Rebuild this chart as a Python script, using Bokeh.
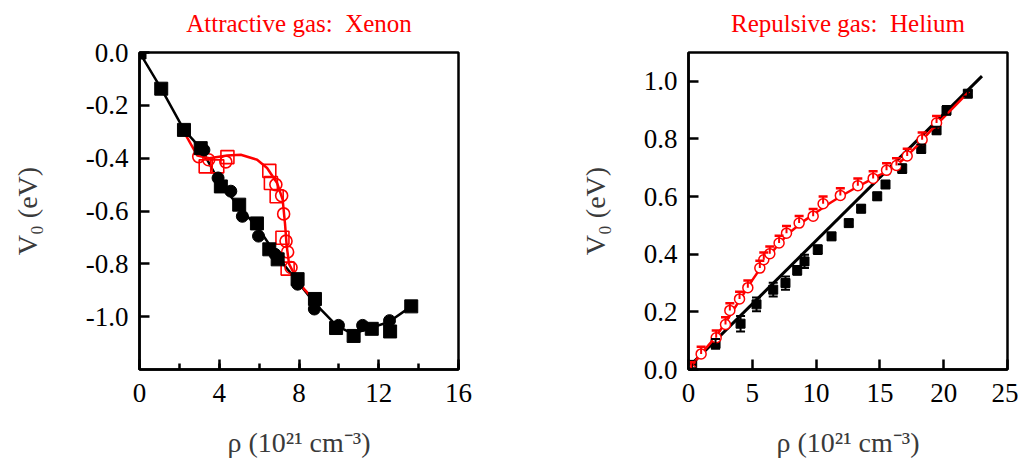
from bokeh.plotting import figure
from bokeh.models import (ColumnDataSource, Whisker, TeeHead, SingleIntervalTicker,
                          NumeralTickFormatter, Range1d, LinearAxis, FixedTicker)
from bokeh.layouts import row
from bokeh.embed import file_html
from bokeh.resources import INLINE

FONT = "Liberation Serif"

# ---------------- Left panel: Xenon ----------------
xe_title = "Attractive gas:\u00a0 Xenon"
xe_sq_x = [0, 1.09, 2.23, 3.07, 4.08, 5.0, 5.89, 6.51, 6.93, 7.93, 8.8, 9.86, 10.74, 11.65, 12.57, 13.63]
xe_sq_y = [0, -0.137, -0.293, -0.362, -0.507, -0.576, -0.647, -0.745, -0.783, -0.858, -0.933, -1.043, -1.073, -1.046, -1.056, -0.961]

xe_ci_x = [3.23, 3.94, 4.58, 5.16, 5.97, 6.8, 7.93, 8.77, 9.98, 11.19, 12.54]
xe_ci_y = [-0.369, -0.475, -0.525, -0.62, -0.695, -0.764, -0.877, -0.971, -1.033, -1.033, -1.015]

xe_oc_x = [2.97, 3.47, 4.33, 6.84, 7.13, 7.23, 7.35, 7.43, 7.6]
xe_oc_y = [-0.394, -0.406, -0.414, -0.50, -0.542, -0.611, -0.714, -0.755, -0.814]

xe_os_x = [3.32, 3.9, 4.41, 6.51, 6.59, 6.88, 7.17, 7.43]
xe_os_y = [-0.431, -0.431, -0.396, -0.448, -0.494, -0.544, -0.701, -0.818]

xe_black_line_x = [0, 1.09, 2.23, 3.1, 4.0, 5.0, 6.0, 6.9, 7.9, 8.8, 9.9, 10.7, 11.3, 12.5, 13.63]
xe_black_line_y = [0, -0.137, -0.293, -0.365, -0.49, -0.585, -0.67, -0.77, -0.865, -0.95, -1.035, -1.065, -1.05, -1.02, -0.961]

xe_red_line_x = [2.3, 2.9, 3.5, 4.4, 5.08, 5.9, 6.4, 6.9, 7.18, 7.3, 7.38, 7.5, 7.7, 8.25, 8.8]
xe_red_line_y = [-0.31, -0.39, -0.40, -0.39, -0.387, -0.406, -0.437, -0.494, -0.557, -0.65, -0.73, -0.8, -0.83, -0.895, -0.94]

# ---------------- Right panel: Helium ----------------
he_title = "Repulsive gas:\u00a0 Helium"
he_b_x = [0.29, 2.12, 4.08, 5.33, 6.64, 7.6, 8.52, 9.09, 10.13, 11.21, 12.56, 13.53, 14.79, 15.44, 16.75, 18.24, 19.44, 20.22, 21.89]
he_b_y = [0.016, 0.089, 0.159, 0.226, 0.277, 0.300, 0.344, 0.375, 0.416, 0.462, 0.508, 0.558, 0.601, 0.642, 0.697, 0.766, 0.830, 0.899, 0.957]
he_b_err = [0.012, 0.017, 0.027, 0.024, 0.024, 0.023, 0.015, 0.023, 0.015, 0.012, 0.012, 0.012, 0.012, 0.012, 0.015, 0.015, 0.012, 0.015, 0.010]

he_r_x = [0.21, 0.99, 2.17, 2.9, 3.24, 4.0, 4.65, 5.59, 5.9, 6.37, 7.1, 7.68, 8.67, 9.77, 10.55, 11.9, 13.27, 14.47, 15.52, 16.3, 17.14, 18.31, 19.44]
he_r_y = [0.0, 0.054, 0.11, 0.156, 0.205, 0.245, 0.284, 0.352, 0.381, 0.402, 0.439, 0.473, 0.508, 0.532, 0.575, 0.604, 0.638, 0.663, 0.691, 0.708, 0.741, 0.797, 0.855]
he_r_err = [0.025] * len(he_r_x)

he_black_line_x = [0, 23]
he_black_line_y = [0.008, 1.018]

he_red_line_x = [0, 1, 2.17, 3.0, 4, 5, 6, 7, 8, 9, 10, 11, 12, 13, 14, 15, 16, 17, 18, 19, 20, 21, 22]
he_red_line_y = [0.0, 0.055, 0.115, 0.17, 0.24, 0.31, 0.375, 0.432, 0.478, 0.514, 0.545, 0.575, 0.603, 0.628, 0.652, 0.675, 0.70, 0.735, 0.78, 0.83, 0.875, 0.92, 0.965]


def style(p, ylabel_standoff, title, xticker, yticker):
    p.grid.visible = False
    p.outline_line_color = "black"
    p.outline_line_width = 2.5
    xax = p.below[0]
    yax = p.left[0]
    for ax in (xax, yax):
        ax.axis_line_width = 2.5
        ax.major_tick_line_width = 2.5
        ax.minor_tick_line_width = 2.5
        ax.major_tick_in = 10
        ax.major_tick_out = 0
        ax.minor_tick_in = 6
        ax.minor_tick_out = 0
        ax.major_label_text_font = FONT
        ax.major_label_text_font_size = "27px"
        ax.major_label_text_color = "black"
        ax.axis_label_text_font = FONT
        ax.axis_label_text_font_size = "28px"
        ax.axis_label_text_font_style = "normal"
        ax.axis_label_text_color = "#3a3a3a"
    xax.ticker = xticker
    yax.ticker = yticker
    xax.major_label_standoff = 14
    xax.axis_label_standoff = 22
    yax.major_label_standoff = 11
    yax.axis_label_standoff = ylabel_standoff
    yax.minor_tick_line_color = None
    xax.axis_label = "ρ (10²¹ cm⁻³)"
    yax.axis_label = "V₀ (eV)"
    yax.formatter = NumeralTickFormatter(format="0.0")
    # title drawn as the label of a bare axis above the frame
    top = LinearAxis(ticker=FixedTicker(ticks=[]), axis_label=title,
                     axis_line_color=None, major_tick_line_color=None,
                     minor_tick_line_color=None,
                     major_label_standoff=0, axis_label_standoff=16,
                     axis_label_text_font=FONT, axis_label_text_font_size="25px",
                     axis_label_text_font_style="normal", axis_label_text_color="red")
    p.add_layout(top, "above")


# ----- left figure -----
p1 = figure(width=520, height=460, output_backend="svg", toolbar_location=None,
            x_range=Range1d(0, 16), y_range=Range1d(-1.2, 0.0),
            min_border_left=139, min_border_right=62, min_border_top=52, min_border_bottom=89)
style(p1, 40, xe_title,
      SingleIntervalTicker(interval=4, num_minor_ticks=2),
      SingleIntervalTicker(interval=0.2, num_minor_ticks=0))

p1.line(xe_black_line_x, xe_black_line_y, line_color="black", line_width=2.5)
p1.line(xe_red_line_x, xe_red_line_y, line_color="red", line_width=2.5)
p1.scatter(xe_os_x, xe_os_y, marker="square", size=13, fill_color="white", fill_alpha=0,
           line_color="red", line_width=1.6)
p1.scatter(xe_oc_x, xe_oc_y, marker="circle", size=12, fill_color="white", fill_alpha=0,
           line_color="red", line_width=1.6)
p1.scatter(xe_ci_x, xe_ci_y, marker="circle", size=12, fill_color="black", line_color="black")
p1.scatter(xe_sq_x, xe_sq_y, marker="square", size=13, fill_color="black", line_color="black")

# ----- right figure -----
p2 = figure(width=498, height=460, output_backend="svg", toolbar_location=None,
            x_range=Range1d(0, 25), y_range=Range1d(0, 1.1),
            min_border_left=168, min_border_right=11, min_border_top=52, min_border_bottom=91)
style(p2, 30, he_title,
      SingleIntervalTicker(interval=5, num_minor_ticks=0),
      SingleIntervalTicker(interval=0.2, num_minor_ticks=0))

src_b = ColumnDataSource(dict(x=he_b_x, y=he_b_y,
                              lo=[y - e for y, e in zip(he_b_y, he_b_err)],
                              hi=[y + e for y, e in zip(he_b_y, he_b_err)]))
src_r = ColumnDataSource(dict(x=he_r_x, y=he_r_y,
                              hi=[y + e for y, e in zip(he_r_y, he_r_err)]))

p2.line(he_black_line_x, he_black_line_y, line_color="black", line_width=3)
p2.add_layout(Whisker(source=src_b, base="x", upper="hi", lower="lo", line_color="black", line_width=2,
                      upper_head=TeeHead(size=9, line_color="black", line_width=2),
                      lower_head=TeeHead(size=9, line_color="black", line_width=2), level="glyph"))
p2.scatter("x", "y", source=src_b, marker="square", size=9, fill_color="black", line_color="black")
p2.line(he_red_line_x, he_red_line_y, line_color="red", line_width=2.5)
p2.add_layout(Whisker(source=src_r, base="x", upper="hi", lower="y", line_color="red", line_width=2,
                      upper_head=TeeHead(size=9, line_color="red", line_width=2.5),
                      lower_head=None, level="glyph"))
p2.scatter("x", "y", source=src_r, marker="circle", size=10, fill_color="white",
           line_color="red", line_width=1.5)

layout = row(p1, p2)
open("out.html", "w").write(file_html(layout, INLINE))
